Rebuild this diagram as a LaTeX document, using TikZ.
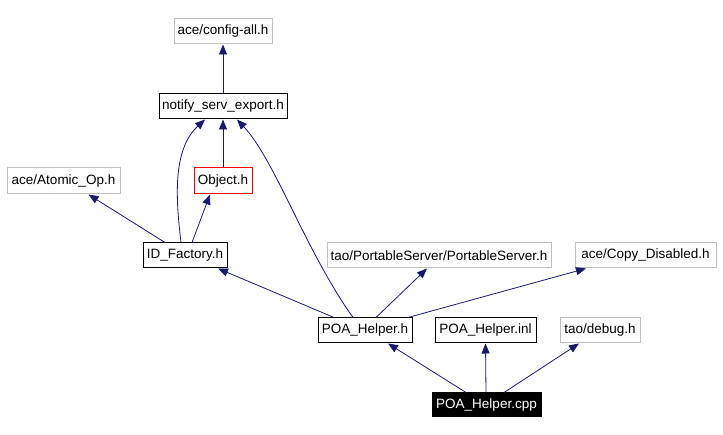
\documentclass[tikz,border=0pt]{standalone}
\usepackage{fontspec}
\setmainfont{Liberation Sans}
\usetikzlibrary{arrows.meta,calc}
\definecolor{edgeblue}{HTML}{191970}
\definecolor{boxgray}{HTML}{BFBFBF}
\begin{document}
\begin{tikzpicture}[x=1pt,y=-1pt,
  every node/.style={font=\fontsize{13.5}{16}\selectfont, inner sep=0pt, rectangle},
  filebox/.style={draw=black, line width=1pt, fill=white},
  extbox/.style={draw=boxgray, line width=1pt, fill=white},
  redbox/.style={draw=red, line width=1pt, fill=white},
  mainbox/.style={draw=black, fill=black, text=white, line width=1pt},
  dep/.style={draw=edgeblue, line width=0.8pt, -{Triangle[length=10pt,width=8pt]}}]
\useasboundingbox (0,0) rectangle (723,435);
\node[extbox, minimum width=98pt, minimum height=25pt] (config) at (223,31.5) {ace/config-all.h};
\node[filebox, minimum width=128pt, minimum height=25pt] (notify) at (223,106.5) {notify\_serv\_export.h};
\node[redbox, minimum width=58pt, minimum height=26pt] (object) at (223,181) {Object.h};
\node[extbox, minimum width=113pt, minimum height=26pt] (atomic) at (63.5,181) {ace/Atomic\_Op.h};
\node[filebox, minimum width=84pt, minimum height=25pt] (idf) at (185,255.5) {ID\_Factory.h};
\node[extbox, minimum width=224pt, minimum height=25pt] (pss) at (439,255.5) {tao/PortableServer/PortableServer.h};
\node[extbox, minimum width=141pt, minimum height=25pt] (copy) at (645.5,255.5) {ace/Copy\_Disabled.h};
\node[filebox, minimum width=94pt, minimum height=25pt] (poah) at (365,330.5) {POA\_Helper.h};
\node[filebox, minimum width=101pt, minimum height=25pt] (inl) at (485.5,330.5) {POA\_Helper.inl};
\node[extbox, minimum width=80pt, minimum height=25pt] (debug) at (600,330.5) {tao/debug.h};
\node[mainbox, minimum width=109pt, minimum height=24pt] (cpp) at (486.5,405) {POA\_Helper.cpp};

\draw[dep] (notify.north) -- (config.south);
\draw[dep] (object.north) -- (notify.south);
\draw[dep] ([xshift=-4pt]idf.north) .. controls (176,200) and (172,150) .. ([xshift=-18pt]notify.south);
\draw[dep] ([xshift=7pt]idf.north) -- ([xshift=-13pt]object.south);
\draw[dep] ([xshift=-20pt]idf.north) -- ([xshift=25pt]atomic.south);
\draw[dep] ([xshift=-12pt]poah.north) .. controls (305,250) and (275,160) .. ([xshift=14pt]notify.south);
\draw[dep] ([xshift=-31pt]poah.north) -- ([xshift=33pt]idf.south);
\draw[dep] ([xshift=11pt]poah.north) -- ([xshift=-12pt]pss.south);
\draw[dep] ([xshift=43pt]poah.north) -- ([xshift=-59.5pt]copy.south);
\draw[dep] ([xshift=-20.5pt]cpp.north) -- ([xshift=23pt]poah.south);
\draw[dep] ([xshift=-0.5pt]cpp.north) -- (inl.south);
\draw[dep] ([xshift=17.5pt]cpp.north) -- ([xshift=-21pt]debug.south);
\end{tikzpicture}
\end{document}
